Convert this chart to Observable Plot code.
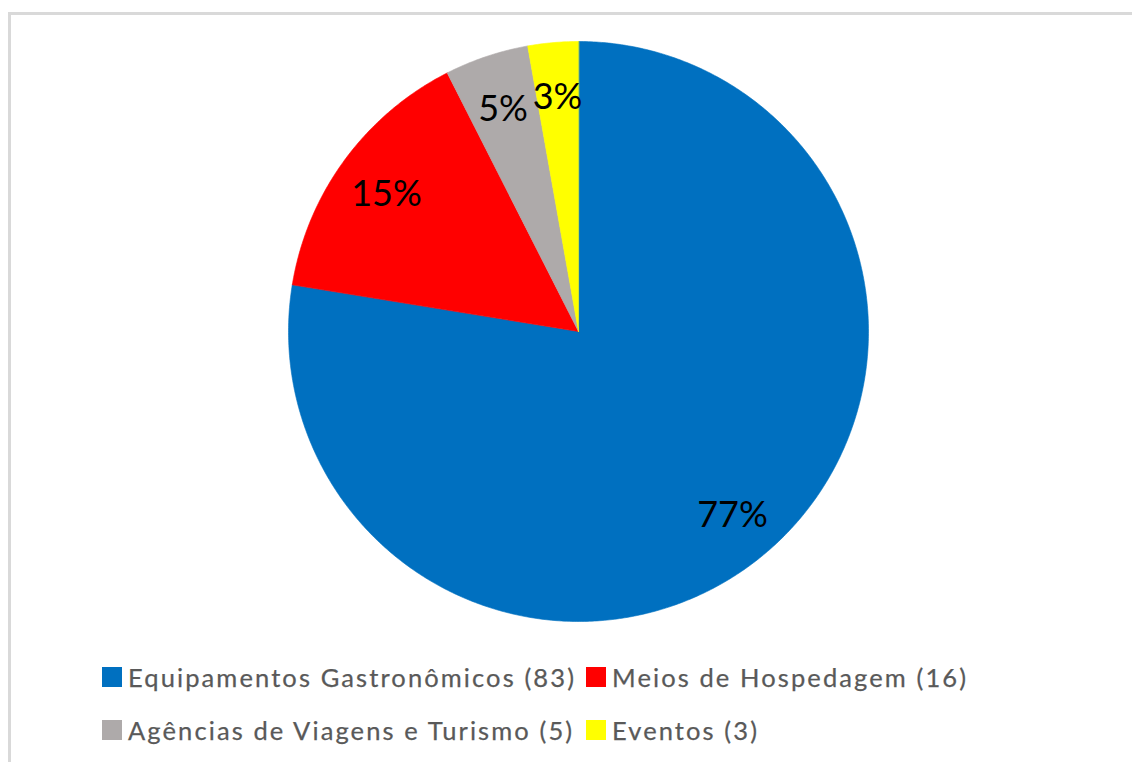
<!DOCTYPE html>
<html>
<head>
<meta charset="utf-8">
<script src="https://cdn.jsdelivr.net/npm/d3@7"></script>
<script src="https://cdn.jsdelivr.net/npm/@observablehq/plot@0.6"></script>
<style>
  html, body { margin: 0; padding: 0; background: #fff; width: 1132px; height: 762px; overflow: hidden; }
  body { position: relative; font-family: Lato, "Open Sans", sans-serif; }
  #frame { position: absolute; left: 8px; top: 12px; width: 1300px; height: 900px; border: 3px solid #d9d9d9; box-sizing: border-box; }
  #chart { position: absolute; left: 0; top: 0; }
  #legend { position: absolute; left: 102px; top: 667px; display: grid; grid-template-columns: 484px auto; grid-auto-rows: 53px; }
  .item { display: flex; align-items: flex-start; height: 53px; }
  .sw { width: 20px; height: 20px; margin-right: 6px; flex: none; }
  .lab { color: #595959; font-size: 25.5px; letter-spacing: 2.1px; line-height: 20px; white-space: nowrap; -webkit-text-stroke: 0.25px #595959; }
</style>
</head>
<body>
<div id="frame"></div>
<div id="chart"></div>
<div id="legend"></div>
<script>
// ---- data ----
const categories = ["Equipamentos Gastronômicos", "Meios de Hospedagem", "Agências de Viagens e Turismo", "Eventos"];
const counts = [83, 16, 5, 3];
const percentLabels = ["77%", "15%", "5%", "3%"];
const legendLabels = ["Equipamentos Gastronômicos (83)", "Meios de Hospedagem (16)", "Agências de Viagens e Turismo (5)", "Eventos (3)"];
const colors = ["#0070C0", "#FF0000", "#AEAAAA", "#FFFF00"];

// ---- build slices (clockwise from 12 o'clock) ----
const total = d3.sum(counts);
let acc = 0;
const slices = categories.map((c, i) => {
  const a0 = acc / total * 2 * Math.PI;
  acc += counts[i];
  const a1 = acc / total * 2 * Math.PI;
  return { c, i, a0, a1 };
});
const pts = [];
for (const s of slices) {
  pts.push({ c: s.c, x: 0, y: 0 });
  const n = Math.max(2, Math.ceil((s.a1 - s.a0) / (Math.PI / 360)));
  for (let k = 0; k <= n; k++) {
    const a = s.a0 + (s.a1 - s.a0) * k / n;
    pts.push({ c: s.c, x: Math.sin(a), y: Math.cos(a) });
  }
}
const labelR = 0.82;
const labels = slices.map(s => {
  const m = (s.a0 + s.a1) / 2;
  return { t: percentLabels[s.i], x: labelR * Math.sin(m), y: labelR * Math.cos(m) };
});

const chart = Plot.plot({
  width: 1132,
  height: 650,
  margin: 0,
  x: { domain: [-1, 1], range: [288, 868], axis: null },
  y: { domain: [-1, 1], range: [621, 41], axis: null },
  color: { domain: categories, range: colors },
  style: { background: "transparent", overflow: "visible" },
  marks: [
    Plot.line(pts, { x: "x", y: "y", z: "c", fill: "c", stroke: "c", strokeWidth: 0.6, curve: "linear-closed" }),
    Plot.text(labels, { x: "x", y: "y", text: "t", fontSize: 36, fill: "black", fontFamily: "Lato", lineAnchor: "middle", dy: 3 })
  ]
});
document.getElementById("chart").appendChild(chart);

// ---- legend ----
const legend = document.getElementById("legend");
legendLabels.forEach((t, i) => {
  const item = document.createElement("div");
  item.className = "item";
  const sw = document.createElement("div");
  sw.className = "sw";
  sw.style.background = colors[i];
  const lab = document.createElement("span");
  lab.className = "lab";
  lab.textContent = t;
  item.appendChild(sw);
  item.appendChild(lab);
  legend.appendChild(item);
});
</script>
</body>
</html>
